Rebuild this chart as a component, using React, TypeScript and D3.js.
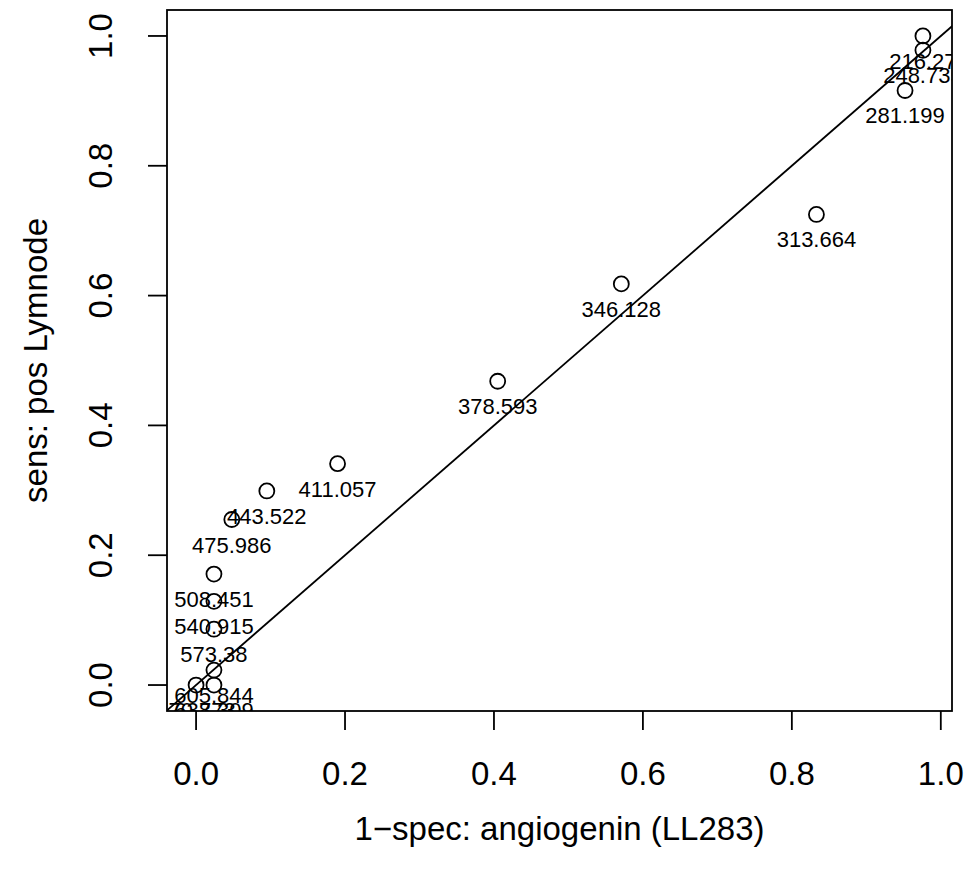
import React from "react";
import * as d3 from "d3";

// 1 - specificity (x) and sensitivity (y)
const fprValues = [0.976, 0.976, 0.952, 0.833, 0.571, 0.405, 0.19, 0.095, 0.048, 0.024, 0.024, 0.024, 0.024, 0.024, 0.0];
const sensValues = [1.0, 0.978, 0.916, 0.725, 0.618, 0.468, 0.341, 0.299, 0.255, 0.171, 0.129, 0.086, 0.023, 0.0, 0.0];
const cutoffLabels = [
  "216.27", "248.735", "281.199", "313.664", "346.128", "378.593", "411.057",
  "443.522", "475.986", "508.451", "540.915", "573.38", "605.844", "638.309", "670.773",
];
const xTicks = [0, 0.2, 0.4, 0.6, 0.8, 1.0];
const yTicks = [0, 0.2, 0.4, 0.6, 0.8, 1.0];
const xTitle = "1\u2212spec: angiogenin (LL283)";
const yTitle = "sens: pos Lymnode";

const W = 972;
const H = 876;
const plot = { left: 167, right: 952, top: 10, bottom: 711 };
const FONT = "'Liberation Sans', Arial, Helvetica, sans-serif";
const FS = 22; // point labels
const FS_AX = 33; // axis labels & titles
const LW = 1.8;

export default function App() {
  const xMax = d3.max(fprValues) as number;
  const xMin = d3.min(fprValues) as number;
  const xr = xMax - xMin;
  const x = d3
    .scaleLinear()
    .domain([xMin - 0.04 * xr, xMax + 0.04 * xr])
    .range([plot.left, plot.right]);
  const yMax = d3.max(sensValues) as number;
  const yMin = d3.min(sensValues) as number;
  const yr = yMax - yMin;
  const y = d3
    .scaleLinear()
    .domain([yMin - 0.04 * yr, yMax + 0.04 * yr])
    .range([plot.bottom, plot.top]);

  const [dx0, dx1] = x.domain();
  const lo = Math.min(dx0, y.domain()[0]) - 1;
  const hi = Math.max(dx1, y.domain()[1]) + 1;
  const fmt = d3.format(".1f");

  return (
    <svg
      width={W}
      height={H}
      style={{ position: "absolute", left: 0, top: 0, background: "#fff" }}
      fontFamily={FONT}
    >
      <rect x={0} y={0} width={W} height={H} fill="#fff" />
      <defs>
        <clipPath id="plotclip">
          <rect x={plot.left} y={plot.top} width={plot.right - plot.left} height={plot.bottom - plot.top} />
        </clipPath>
      </defs>

      <g clipPath="url(#plotclip)" fontSize={FS}>
        {/* abline(0,1) */}
        <line x1={x(lo)} y1={y(lo)} x2={x(hi)} y2={y(hi)} stroke="#000" strokeWidth={LW} />
        {fprValues.map((v, i) => (
          <circle key={"p" + i} cx={x(v)} cy={y(sensValues[i])} r={7.5} fill="none" stroke="#000" strokeWidth={LW} />
        ))}
        {fprValues.map((v, i) => (
          <text key={"t" + i} x={x(v)} y={y(sensValues[i]) + 33} textAnchor="middle" fill="#000">
            {cutoffLabels[i]}
          </text>
        ))}
      </g>

      <rect
        x={plot.left}
        y={plot.top}
        width={plot.right - plot.left}
        height={plot.bottom - plot.top}
        fill="none"
        stroke="#000"
        strokeWidth={LW}
      />

      <g fontSize={FS_AX}>
        {/* x axis */}
        {xTicks.map((t) => (
          <g key={"xt" + t}>
            <line x1={x(t)} x2={x(t)} y1={plot.bottom} y2={plot.bottom + 19} stroke="#000" strokeWidth={LW} />
            <text x={x(t)} y={785} textAnchor="middle">
              {fmt(t)}
            </text>
          </g>
        ))}
        {/* y axis */}
        {yTicks.map((t) => (
          <g key={"yt" + t}>
            <line x1={plot.left} x2={plot.left - 19} y1={y(t)} y2={y(t)} stroke="#000" strokeWidth={LW} />
            <text transform={`translate(112,${y(t)}) rotate(-90)`} textAnchor="middle">
              {fmt(t)}
            </text>
          </g>
        ))}

        <text x={(plot.left + plot.right) / 2} y={840} textAnchor="middle">
          {xTitle}
        </text>
        <text transform={`translate(47,${(plot.top + plot.bottom) / 2}) rotate(-90)`} textAnchor="middle">
          {yTitle}
        </text>
      </g>
    </svg>
  );
}
